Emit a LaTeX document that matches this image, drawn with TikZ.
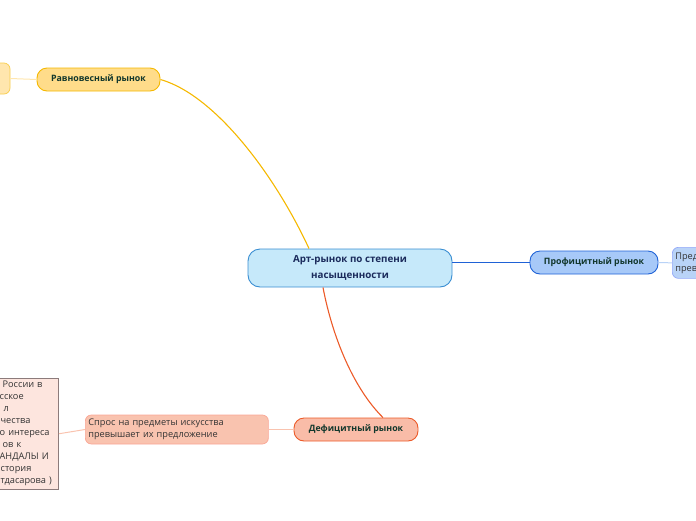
\documentclass[tikz,border=0pt]{standalone}
\usepackage{fontspec}
\setmainfont{Open Sans}
\usepackage{tikz}
\usetikzlibrary{positioning}
\usepackage{xcolor}

\definecolor{centfill}{HTML}{C6E9FA}
\definecolor{centline}{HTML}{3A8ED2}
\definecolor{centtext}{HTML}{1B2B5C}
\definecolor{ravfill}{HTML}{FFDC8A}
\definecolor{ravline}{HTML}{F5B800}
\definecolor{ravpale}{HTML}{FFE6AE}
\definecolor{profill}{HTML}{A7C9F8}
\definecolor{proline}{HTML}{1F62D6}
\definecolor{propale}{HTML}{B9D3F7}
\definecolor{deffill}{HTML}{F9BCA8}
\definecolor{defline}{HTML}{EC5A28}
\definecolor{salmon}{HTML}{F9C3AF}
\definecolor{notefill}{HTML}{FDE5DE}
\definecolor{noteline}{HTML}{8C7B7B}
\definecolor{darkgreen}{HTML}{12372C}

\begin{document}
\begin{tikzpicture}[x=1pt,y=-1pt,
  topic/.style={draw, line width=0.9pt, rounded corners=10pt, font=\fontsize{8.8}{11}\selectfont\bfseries, text=darkgreen, inner sep=0pt},
  subtopic/.style={draw, line width=0.7pt, rounded corners=6pt, font=\fontsize{9.2}{12}\selectfont, text=black!80, inner sep=3pt}
  ]

\useasboundingbox (0,0) rectangle (696,520);
\clip (0,0) rectangle (696,520);

\node[topic, fill=centfill, draw=centline, text=centtext, rounded corners=12pt, minimum width=204pt, minimum height=38pt, align=center, font=\fontsize{9.8}{16}\selectfont\bfseries] (rynok) at (350,268) {Арт-рынок по степени\\насыщенности};

\node[topic, fill=ravfill, draw=ravline, minimum width=123pt, minimum height=23pt] (ravn) at (98.5,79.5) {Равновесный рынок};
\node[topic, fill=profill, draw=proline, minimum width=128pt, minimum height=23pt] (prof) at (594,262.5) {Профицитный рынок};
\node[topic, fill=deffill, draw=defline, minimum width=124pt, minimum height=23pt] (defic) at (356,429.5) {Дефицитный рынок};

% obrezannye uzly po krayam
\node[subtopic, fill=ravpale, draw=ravline!70, minimum width=40pt, minimum height=31pt] (ravsub) at (-10,78.5) {};
\node[subtopic, fill=propale, draw=propale!80!blue, anchor=north west, align=left, text width=50pt, minimum height=31pt] (profsub) at (672,247) {Пред\\прев};
\node[subtopic, fill=salmon, draw=salmon!85!red, anchor=west, align=left, minimum width=183pt, minimum height=29pt, text width=177pt] (spros) at (85,429.5) {Спрос на предметы искусства\\превышает их предложение};
\node[subtopic, fill=notefill, draw=noteline, rounded corners=0pt, anchor=north east, align=left, text width=56pt, inner xsep=3pt] (primer) at (59,378) {%
\hspace*{3pt}России в\\
сское\\
\hspace*{4pt}л\\
\hspace*{1pt}чества\\
о интереса\\
\hspace*{3pt}ов к\\
АНДАЛЫ И\\
\hspace*{1pt}стория\\
\hspace*{1pt}тдасарова )};

\draw[ravline, line width=1.1pt] (ravn.east) .. controls (215,95) and (275,175) .. ([xshift=-41pt]rynok.north);
\draw[proline, line width=1.4pt] ([yshift=5.5pt]rynok.east) -- (prof.west);
\draw[defline, line width=1.1pt] ([xshift=-27pt]rynok.south) .. controls (333,340) and (355,390) .. ([xshift=27pt]defic.north);

\draw[ravpale, line width=1pt] (ravsub.east) -- (ravn.west);
\draw[propale, line width=1pt] (prof.east) -- (profsub.west);
\draw[salmon, line width=1pt] (defic.west) -- (spros.east);
\draw[salmon, line width=1pt] (spros.west) -- (primer.east);

\end{tikzpicture}
\end{document}
